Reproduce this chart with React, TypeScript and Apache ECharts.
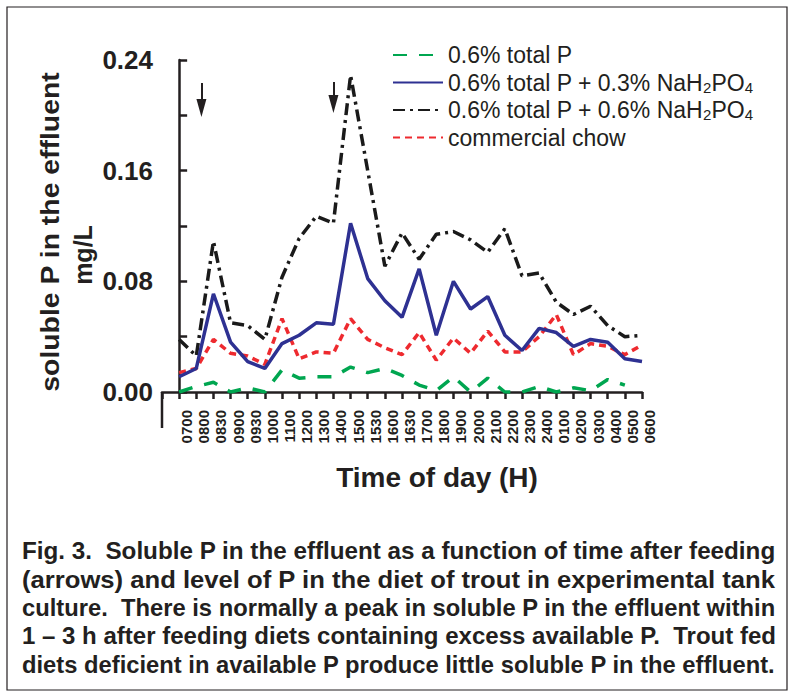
import React, { useEffect, useRef } from 'react';
import * as echarts from 'echarts';

const categories = ['0700', '0800', '0830', '0900', '0930', '1000', '1100', '1200', '1300', '1400', '1500', '1530', '1600', '1630', '1700', '1800', '1900', '2000', '2100', '2200', '2300', '2400', '0100', '0200', '0300', '0400', '0500', '0600'];

const seriesNames = ['0.6% total P', '0.6% total P + 0.3% NaH2PO4', '0.6% total P + 0.6% NaH2PO4', 'commercial chow'];

const totalP: (number | null)[] = [0.000, 0.004, 0.007, 0.000, 0.003, 0.000, 0.016, 0.010, 0.011, 0.011, 0.018, 0.014, 0.017, 0.012, 0.005, 0.001, 0.011, 0.000, 0.010, 0.000, 0.000, 0.004, 0.000, 0.003, 0.001, 0.009, 0.005, null];
const plus03: number[] = [0.011, 0.017, 0.071, 0.036, 0.022, 0.017, 0.035, 0.041, 0.050, 0.049, 0.122, 0.082, 0.066, 0.054, 0.089, 0.041, 0.080, 0.060, 0.069, 0.041, 0.030, 0.046, 0.043, 0.033, 0.038, 0.036, 0.024, 0.022];
const plus06: number[] = [0.038, 0.026, 0.109, 0.050, 0.048, 0.038, 0.083, 0.111, 0.127, 0.122, 0.229, 0.160, 0.091, 0.115, 0.096, 0.114, 0.116, 0.110, 0.101, 0.118, 0.084, 0.086, 0.065, 0.056, 0.062, 0.048, 0.040, 0.041];
const chow: number[] = [0.014, 0.017, 0.038, 0.028, 0.026, 0.020, 0.053, 0.024, 0.029, 0.028, 0.053, 0.038, 0.032, 0.027, 0.043, 0.023, 0.039, 0.028, 0.044, 0.029, 0.029, 0.040, 0.056, 0.027, 0.035, 0.033, 0.027, 0.034];

// feeding arrows: x position (category index), arrow top value, arrow head value
const feedingX = [1.3, 9];
const feedingTop = [0.2234, 0.2241];
const feedingHead = [0.2053, 0.2082];

const yMax = 0.24;
const yStep = 0.04;

const captionLines = [
  'Fig. 3.  Soluble P in the effluent as a function of time after feeding',
  '(arrows) and level of P in the diet of trout in experimental tank',
  'culture.  There is normally a peak in soluble P in the effluent within',
  '1 – 3 h after feeding diets containing excess available P.  Trout fed',
  'diets deficient in available P produce little soluble P in the effluent.',
];

const FONT = '"Liberation Sans", Arial, Helvetica, sans-serif';
const INK = '#231f20';
const colors = ['#00a650', '#2e3192', '#1a1a1a', '#ee2a2f'];
const dashes: any[] = [[14, 12], 'solid', [12, 5, 3, 5], [7, 5]];

function measure(text: string, font: string): number {
  const c = document.createElement('canvas').getContext('2d');
  if (!c) return text.length * 10;
  c.font = font;
  return c.measureText(text).width;
}

function buildOption() {
  const dataSets = [totalP, plus03, plus06, chow];
  const series: any[] = dataSets.map((arr, si) => ({
    name: seriesNames[si],
    type: 'line',
    symbol: 'none',
    data: arr.map((v, i) => [i, v]).filter((d) => d[1] !== null),
    lineStyle: { color: colors[si], width: 3.5, type: dashes[si], cap: 'butt' },
    itemStyle: { color: colors[si] },
    z: si === 1 ? 4 : 3,
  }));
  series[2].markLine = {
    silent: true,
    symbol: ['none', 'triangle'],
    label: { show: false },
    lineStyle: { color: INK, width: 2, type: 'solid' },
    emphasis: { disabled: true },
    data: feedingX.map((x, i) => [
      { coord: [x, feedingTop[i]], symbol: 'none' },
      { coord: [x, feedingHead[i]], symbol: 'triangle', symbolSize: [10, 18] },
    ]),
  };

  const capFont = `bold 23px ${FONT}`;
  const capWidth = 754;
  const captionEls = captionLines.map((t, i) => {
    const w = measure(t, capFont);
    return {
      type: 'text',
      x: 22,
      y: 551 + i * 28.5,
      scaleX: capWidth / w,
      style: { text: t, font: capFont, fill: INK, align: 'left', textAlign: 'left', verticalAlign: 'middle', textVerticalAlign: 'middle' },
    };
  });

  const yTitle = 'soluble P in the effluent';
  const yTitleFont = `bold 25px ${FONT}`;
  const yTitleScale = 320 / measure(yTitle, yTitleFont);

  return {
    animation: false,
    backgroundColor: '#ffffff',
    grid: { left: 162, right: 152, top: 60, bottom: 306, containLabel: false },
    legend: {
      orient: 'vertical',
      left: 387,
      top: 38,
      itemWidth: 50,
      itemHeight: 24,
      itemGap: 3.5,
      selectedMode: false,
      itemStyle: { opacity: 0 },
      data: seriesNames,
      formatter: (name: string) => name.replace('NaH2PO4', 'NaH{sub|2}PO{sub|4}'),
      textStyle: {
        fontSize: 23,
        fontFamily: FONT,
        color: INK,
        lineHeight: 24,
        rich: {
          sub: { fontSize: 15, fontFamily: FONT, color: INK, lineHeight: 10, verticalAlign: 'bottom' },
        },
      },
    },
    xAxis: {
      type: 'value',
      min: -1,
      max: categories.length - 1,
      interval: 1,
      axisLine: { onZero: false, lineStyle: { color: INK, width: 2.5 } },
      axisTick: { show: true, length: 7, lineStyle: { color: INK, width: 2.5 } },
      axisLabel: {
        rotate: 90,
        margin: 18,
        fontSize: 15,
        fontWeight: 'bold',
        fontFamily: FONT,
        color: INK,
        verticalAlign: 'top',
        formatter: (v: number) => (Number.isInteger(v) && v >= 0 ? categories[v] ?? '' : ''),
      },
      splitLine: { show: false },
    },
    yAxis: {
      type: 'value',
      min: 0,
      max: yMax,
      interval: yStep,
      axisLine: { show: true, lineStyle: { color: INK, width: 2.5 } },
      axisTick: { show: true, inside: true, length: 8, lineStyle: { color: INK, width: 2.5 } },
      axisLabel: {
        margin: 9,
        fontSize: 26,
        fontWeight: 'bold',
        fontFamily: FONT,
        color: INK,
        formatter: (v: number) => (Math.round(v / yStep) % 2 === 0 ? v.toFixed(2) : ''),
      },
      splitLine: { show: false },
    },
    graphic: [
      { type: 'rect', shape: { x: 7, y: 7, width: 780, height: 683 }, style: { fill: 'none', stroke: INK, lineWidth: 1.2 }, silent: true },
      { type: 'line', shape: { x1: 162, y1: 392, x2: 162, y2: 428 }, style: { stroke: INK, lineWidth: 2.5 }, silent: true },
      {
        type: 'text', x: 51, y: 232, rotation: Math.PI / 2, scaleX: yTitleScale,
        style: { text: yTitle, font: yTitleFont, fill: INK, align: 'center', textAlign: 'center', verticalAlign: 'middle', textVerticalAlign: 'middle' },
      },
      {
        type: 'text', x: 83, y: 255, rotation: Math.PI / 2,
        style: { text: 'mg/L', font: yTitleFont, fill: INK, align: 'center', textAlign: 'center', verticalAlign: 'middle', textVerticalAlign: 'middle' },
      },
      {
        type: 'text', x: 437, y: 477,
        style: { text: 'Time of day (H)', font: `bold 28px ${FONT}`, fill: INK, align: 'center', textAlign: 'center', verticalAlign: 'middle', textVerticalAlign: 'middle' },
      },
      ...captionEls,
    ],
    series,
  };
}

export default function App() {
  const ref = useRef<HTMLDivElement>(null);
  useEffect(() => {
    if (!ref.current) return;
    const chart = echarts.init(ref.current, undefined, { renderer: 'svg' });
    chart.setOption(buildOption() as any);
    return () => chart.dispose();
  }, []);
  return <div ref={ref} style={{ position: 'absolute', left: 0, top: 0, width: 794, height: 698, background: '#fff' }} />;
}
